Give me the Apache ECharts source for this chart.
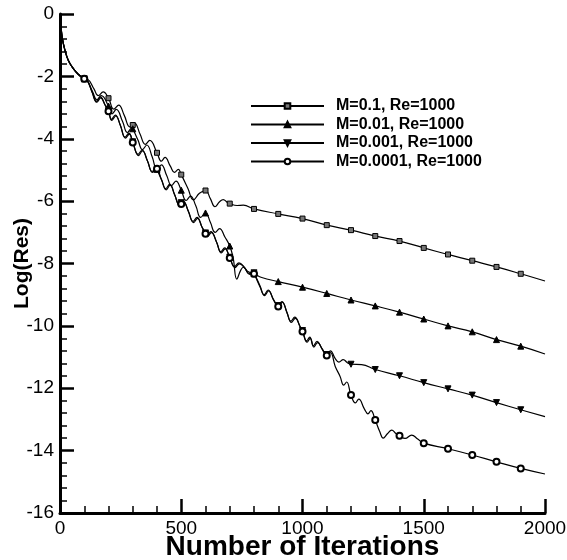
<!DOCTYPE html>
<html>
<head>
<meta charset="utf-8">
<script src="https://cdn.jsdelivr.net/npm/echarts@6/dist/echarts.min.js"></script>
<style>
  html, body { margin: 0; padding: 0; background: #fff; }
  #chart { width: 567px; height: 560px; }
</style>
</head>
<body>
<div id="chart"></div>
<script>
// Convergence history: log10 of the residual against iteration count, Re = 1000.
const seriesNames = [
  'M=0.1, Re=1000',
  'M=0.01, Re=1000',
  'M=0.001, Re=1000',
  'M=0.0001, Re=1000'
];

// [iteration, log(residual)]
const resM01 = [
  [0,0],[4,-0.4],[10,-0.8],[20,-1.15],[35,-1.5],[55,-1.75],[75,-1.93],[100,-2.08],
  [115,-2.1],[140,-2.4],[158,-2.62],[178,-2.5],[200,-2.7],[222,-3.05],[242,-2.92],
  [265,-3.25],[288,-3.62],[300,-3.56],[308,-3.5],[330,-3.85],[352,-4.18],[370,-4.05],
  [400,-4.45],[418,-4.72],[433,-4.6],[455,-4.88],[472,-5.08],[488,-4.98],[500,-5.15],
  [528,-5.6],[550,-5.96],[575,-5.75],[600,-5.66],[620,-5.92],[639,-6.18],[658,-6.02],
  [673,-5.95],[690,-6.04],[700,-6.08],[730,-6.14],[756,-6.13],[800,-6.25],[900,-6.41],
  [1000,-6.56],[1100,-6.77],[1200,-6.93],[1300,-7.12],[1400,-7.28],[1500,-7.5],
  [1600,-7.71],[1700,-7.91],[1800,-8.11],[1900,-8.33],[2000,-8.56]
];
const resM001 = [
  [0,0],[4,-0.4],[10,-0.8],[20,-1.15],[35,-1.5],[55,-1.75],[75,-1.93],[100,-2.08],
  [112,-2.12],[135,-2.5],[152,-2.75],[170,-2.62],[200,-2.95],[215,-3.2],[232,-3.06],
  [258,-3.45],[278,-3.8],[296,-3.66],[300,-3.68],[322,-4.05],[340,-4.35],[358,-4.2],
  [380,-4.58],[400,-4.98],[418,-4.84],[440,-5.18],[460,-5.5],[478,-5.36],[500,-5.65],
  [520,-5.98],[538,-5.84],[560,-6.15],[580,-6.52],[600,-6.38],[620,-6.68],[640,-7.0],
  [658,-6.88],[680,-7.15],[700,-7.44],[714,-7.82],[729,-8.5],[745,-8.22],[756,-8.12],
  [775,-8.26],[800,-8.33],[832,-8.45],[900,-8.58],[1000,-8.76],[1100,-8.96],
  [1200,-9.17],[1300,-9.36],[1400,-9.56],[1500,-9.78],[1600,-10.0],[1700,-10.19],
  [1800,-10.44],[1900,-10.65],[2000,-10.9]
];
const resM0001 = [
  [0,0],[4,-0.4],[10,-0.8],[20,-1.15],[35,-1.5],[55,-1.75],[75,-1.93],[100,-2.08],
  [112,-2.12],[132,-2.5],[150,-2.8],[166,-2.66],[185,-2.9],[200,-3.1],[212,-3.38],
  [228,-3.24],[248,-3.55],[268,-3.95],[284,-3.82],[300,-4.1],[322,-4.5],[338,-4.36],
  [360,-4.7],[380,-5.05],[396,-4.92],[418,-5.3],[436,-5.6],[452,-5.46],[472,-5.78],
  [492,-6.12],[500,-6.05],[508,-6.0],[528,-6.3],[549,-6.65],[565,-6.52],[585,-6.82],
  [600,-7.02],[606,-7.1],[622,-6.98],[645,-7.3],[663,-7.62],[679,-7.5],[700,-7.8],
  [720,-8.1],[738,-7.98],[760,-8.12],[780,-8.32],[795,-8.25],[800,-8.3],[825,-8.72],
  [842,-9.0],[858,-8.85],[880,-9.15],[900,-9.35],[915,-9.22],[935,-9.55],[952,-9.85],
  [968,-9.72],[990,-10.02],[1000,-10.15],[1017,-10.48],[1030,-10.36],[1045,-10.64],
  [1060,-10.5],[1080,-10.72],[1100,-10.92],[1115,-10.8],[1135,-11.05],[1150,-11.16],
  [1168,-11.08],[1185,-11.18],[1200,-11.23],[1244,-11.24],[1300,-11.4],[1400,-11.6],
  [1500,-11.82],[1600,-12.02],[1700,-12.22],[1800,-12.46],[1900,-12.69],[2000,-12.91]
];
const resM00001 = [
  [0,0],[4,-0.4],[10,-0.8],[20,-1.15],[35,-1.5],[55,-1.75],[75,-1.93],[100,-2.08],
  [112,-2.13],[134,-2.53],[152,-2.83],[168,-2.69],[187,-2.94],[200,-3.12],[214,-3.41],
  [230,-3.27],[250,-3.59],[270,-3.98],[286,-3.85],[300,-4.12],[324,-4.54],[340,-4.39],
  [362,-4.74],[382,-5.08],[398,-4.95],[400,-4.96],[420,-5.34],[438,-5.64],[454,-5.49],
  [474,-5.82],[494,-6.15],[500,-6.09],[510,-6.03],[530,-6.34],[551,-6.69],[567,-6.55],
  [587,-6.86],[600,-7.05],[608,-7.14],[624,-7.01],[647,-7.34],[665,-7.66],[681,-7.53],
  [700,-7.82],[722,-8.13],[740,-8.01],[762,-8.15],[782,-8.35],[793,-8.28],[800,-8.33],
  [825,-8.75],[844,-9.03],[860,-8.88],[882,-9.19],[900,-9.38],[917,-9.25],[937,-9.6],
  [954,-9.89],[970,-9.76],[992,-10.06],[1000,-10.18],[1019,-10.52],[1032,-10.4],
  [1047,-10.68],[1062,-10.54],[1082,-10.76],[1100,-10.95],[1115,-10.86],[1135,-11.3],
  [1155,-11.62],[1170,-11.9],[1182,-11.8],[1200,-12.22],[1218,-12.47],[1232,-12.35],
  [1255,-12.66],[1270,-12.82],[1282,-12.72],[1300,-13.02],[1318,-13.38],[1333,-13.6],
  [1350,-13.46],[1368,-13.34],[1385,-13.45],[1400,-13.52],[1423,-13.61],[1450,-13.5],
  [1475,-13.63],[1500,-13.76],[1600,-13.94],[1700,-14.14],[1800,-14.36],[1900,-14.57],
  [2000,-14.75]
];

// Axis ranges and tick spacing
const xRange = [0, 2000];
const xStep = 500;
const yRange = [-16, 0];
const yStep = 2;
// symbols are drawn every markerEvery iterations
const markerEvery = 100;

const FONT = '"Liberation Sans", Arial, Helvetica, sans-serif';
const INK = '#000';

const allSeries = [resM01, resM001, resM0001, resM00001];
const symbols = ['rect', 'triangle', 'path://M0,0L10,0L5,10Z', 'emptyCircle'];
const symbolSizes = [5, 6, 6, 6];
const symbolFills = ['#777', INK, INK, INK];

function withMarkers(points) {
  return points.map(function (p) {
    const marked = p[0] > xRange[0] && p[0] < xRange[1] && p[0] % markerEvery === 0;
    return marked ? { value: p } : { value: p, symbol: 'none' };
  });
}

const chart = echarts.init(document.getElementById('chart'), null, { renderer: 'canvas' });

const axisCommon = {
  type: 'value',
  axisLine: { show: true, onZero: false, lineStyle: { color: INK, width: 3 } },
  axisTick: { show: true, inside: true, length: 14, lineStyle: { color: INK, width: 2.5 } },
  minorTick: { show: true, splitNumber: 5, length: 7, lineStyle: { color: INK, width: 1.5 } },
  splitLine: { show: false },
  minorSplitLine: { show: false },
  axisLabel: {
    color: INK, fontSize: 19, fontFamily: FONT, margin: 6,
    formatter: function (v) { return String(v); }
  },
  nameLocation: 'middle',
  nameMoveOverlap: false,
  nameTextStyle: { color: INK, fontFamily: FONT, fontWeight: 'bold' }
};

chart.setOption({
  animation: false,
  backgroundColor: '#fff',
  grid: { left: 60, top: 14, width: 485, height: 499, containLabel: false, outerBoundsMode: 'none' },
  xAxis: Object.assign({}, axisCommon, {
    min: xRange[0], max: xRange[1], interval: xStep,
    name: 'Number of Iterations', nameGap: 20,
    nameTextStyle: Object.assign({}, axisCommon.nameTextStyle, { fontSize: 28 })
  }),
  yAxis: Object.assign({}, axisCommon, {
    min: yRange[0], max: yRange[1], interval: yStep,
    name: 'Log(Res)', nameGap: 27,
    nameTextStyle: Object.assign({}, axisCommon.nameTextStyle, { fontSize: 21 })
  }),
  legend: {
    orient: 'vertical',
    left: 245,
    top: 93,
    itemWidth: 73,
    itemHeight: 7,
    itemGap: 2.5,
    textStyle: { color: INK, fontFamily: FONT, fontWeight: 'bold', fontSize: 16, padding: [0, 0, 0, 7] },
    data: seriesNames
  },
  series: allSeries.map(function (pts, i) {
    return {
      name: seriesNames[i],
      type: 'line',
      data: withMarkers(pts),
      smooth: 0.45,
      symbol: symbols[i],
      symbolSize: symbolSizes[i],
      showSymbol: true,
      lineStyle: { color: INK, width: 1.2 },
      itemStyle: { color: symbolFills[i], borderColor: INK, borderWidth: 1 },
      emphasis: { disabled: true },
      z: 2 + i
    };
  })
});
</script>
</body>
</html>
